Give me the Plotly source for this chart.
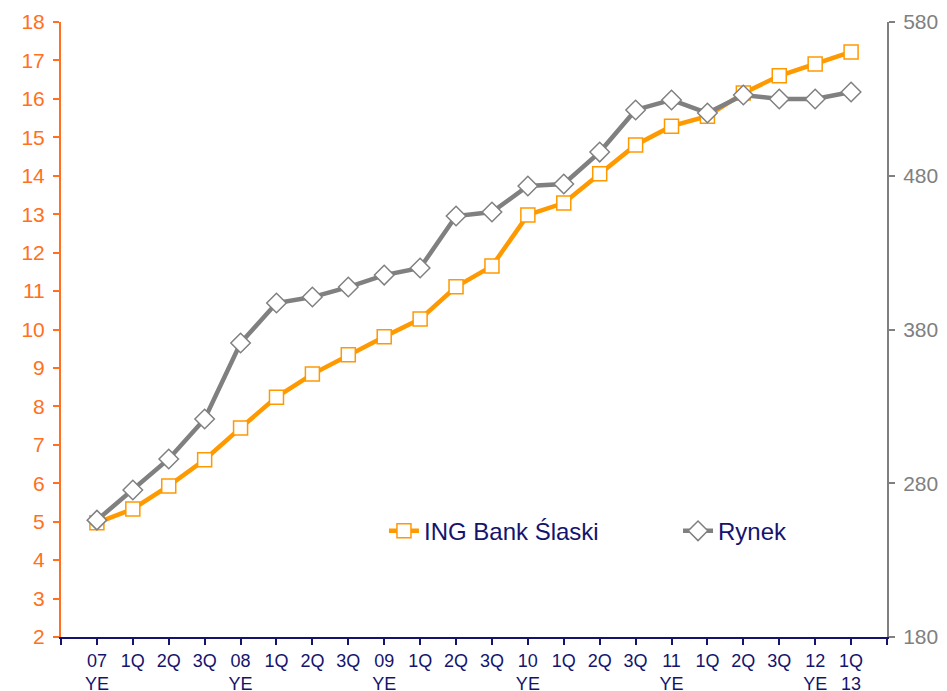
import plotly.graph_objects as go

categories = ["07<br>YE", "1Q", "2Q", "3Q", "08<br>YE", "1Q", "2Q", "3Q", "09<br>YE", "1Q", "2Q",
              "3Q", "10<br>YE", "1Q", "2Q", "3Q", "11<br>YE", "1Q", "2Q", "3Q", "12<br>YE", "1Q<br>13"]
ing = [4.97, 5.33, 5.93, 6.61, 7.44, 8.24, 8.84, 9.34, 9.81, 10.27, 11.11,
       11.65, 12.98, 13.29, 14.05, 14.8, 15.29, 15.55, 16.15, 16.6, 16.91, 17.22]
rynek = [256, 275.6, 295.8, 321.8, 371.2, 397.2, 401.1, 407.6, 415.4, 420, 453.8,
         456.4, 473.3, 474.6, 495.4, 522.8, 529.3, 520.8, 532.5, 529.9, 529.9, 534.5]

xs = list(range(len(categories)))
navy = "#14146e"
orange_axis = "#FF7020"

fig = go.Figure()

fig.add_trace(go.Scatter(x=xs, y=ing, name="ING Bank Ślaski", mode="lines+markers",
                         line=dict(color="#FF9900", width=4.5), legend="legend",
                         marker=dict(symbol="square", size=14, color="white",
                                     line=dict(color="#FF9900", width=1.5))))
fig.add_trace(go.Scatter(x=xs, y=rynek, name="Rynek", yaxis="y2", mode="lines+markers",
                         line=dict(color="#808080", width=4.5), legend="legend2",
                         marker=dict(symbol="diamond", size=15, color="white",
                                     line=dict(color="#808080", width=1.5))))

legend_style = dict(yanchor="middle", xanchor="left", font=dict(size=24, color=navy),
                    bgcolor="rgba(0,0,0,0)", borderwidth=0)

# page body adds an 8px offset, so margins are trimmed on the top/left
fig.update_layout(
    width=947, height=691,
    margin=dict(l=53, r=68, t=14, b=62),
    plot_bgcolor="white", paper_bgcolor="white",
    font=dict(family="Liberation Sans, Arial, sans-serif", size=18, color=navy),
    showlegend=True,
    legend=dict(x=0.391, y=0.172, **legend_style),
    legend2=dict(x=0.747, y=0.172, **legend_style),
    xaxis=dict(range=[-1, 22], tickmode="array", tickvals=list(range(-1, 23)),
               ticktext=[""] + categories + [""], showgrid=False, zeroline=False,
               showline=True, linecolor=navy, linewidth=2, ticks="outside", ticklen=6,
               tickcolor=navy, tickwidth=2, tickfont=dict(color=navy, size=18),
               ticklabelstandoff=0, automargin=False),
    xaxis2=dict(range=[-1, 22], overlaying="x", tickmode="array", tickvals=list(range(-1, 23)),
                showticklabels=False, showgrid=False, zeroline=False, ticks="inside", ticklen=6,
                tickcolor=navy, tickwidth=2, side="bottom", anchor="y", automargin=False),
    yaxis=dict(range=[2, 18], dtick=1, tick0=2, showgrid=False, zeroline=False,
               showline=True, linecolor=orange_axis, linewidth=2, ticks="outside", ticklen=6,
               tickcolor=orange_axis, tickwidth=2, tickfont=dict(color=orange_axis, size=21),
               ticklabelstandoff=4, automargin=False),
    yaxis2=dict(range=[180, 580], dtick=100, tick0=180, overlaying="y", side="right",
                showgrid=False, zeroline=False, showline=True, linecolor="#808080", linewidth=2,
                ticks="outside", ticklen=6, tickcolor="#808080", tickwidth=2,
                tickfont=dict(color="#808080", size=21), ticklabelstandoff=4, automargin=False),
)

fig.write_html("out.html")
